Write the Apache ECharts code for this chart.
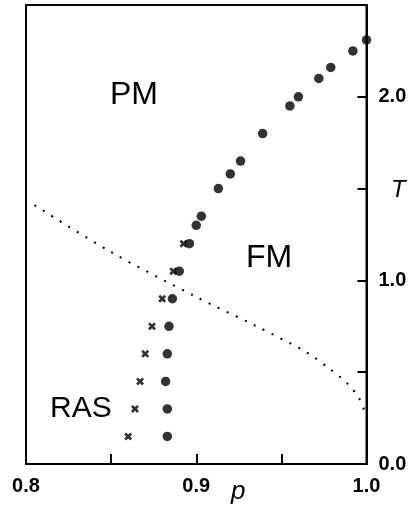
<!DOCTYPE html>
<html>
<head>
<meta charset="utf-8">
<script src="https://cdn.jsdelivr.net/npm/echarts@6/dist/echarts.min.js"></script>
<style>
  html, body { margin: 0; padding: 0; background: #fff; }
  #chart { width: 410px; height: 508px; }
</style>
</head>
<body>
<div id="chart"></div>
<script>
// Phase diagram: temperature T against concentration p

// Ferromagnetic transition points (filled circles)
const pFerro = [0.883, 0.883, 0.882, 0.883, 0.884, 0.886, 0.890, 0.896, 0.900, 0.903,
                0.913, 0.920, 0.926, 0.939, 0.955, 0.960, 0.972, 0.979, 0.992, 1.000];
const tFerro = [0.15, 0.30, 0.45, 0.60, 0.75, 0.90, 1.05, 1.20, 1.30, 1.35,
                1.50, 1.58, 1.65, 1.80, 1.95, 2.00, 2.10, 2.16, 2.25, 2.31];

// Random-axis spin-glass boundary points (crosses)
const pRas = [0.860, 0.864, 0.867, 0.870, 0.874, 0.880, 0.8865, 0.8925];
const tRas = [0.15, 0.30, 0.45, 0.60, 0.75, 0.90, 1.05, 1.20];

// Dotted reference curve
const pCurve = [0.805, 0.850, 0.900, 0.935, 0.965, 0.979, 0.989, 0.9955, 0.999, 1.000];
const tCurve = [1.41, 1.154, 0.910, 0.752, 0.607, 0.514, 0.436, 0.360, 0.285, 0.255];

// Axis ticks and labelled values
const xTicks = { min: 0.8, max: 1.0, step: 0.05 };
const xLabelled = [0.8, 0.9, 1.0];
const yTicks = { min: 0, max: 2.5, step: 0.5 };
const yLabelled = [0, 1, 2];

// Region names
const regionNames = ['PM', 'FM', 'RAS'];

const zip = (a, b) => a.map((v, i) => [v, b[i]]);
const isLabelled = (list, v) => list.some(l => Math.abs(l - v) < 1e-6);

// Heavy "x" marker drawn as a filled outline
const CROSS = 'path://M0,2.4L2.4,0L5,2.6L7.6,0L10,2.4L7.4,5L10,7.6L7.6,10L5,7.4L2.4,10L0,7.6L2.6,5Z';
const FONT = '"Liberation Sans", Arial, Helvetica, sans-serif';

const chart = echarts.init(document.getElementById('chart'), null, { renderer: 'canvas' });

const tickLabel = list => ({
  show: true, margin: 12, color: '#000', fontSize: 20, fontWeight: 'bold', fontFamily: FONT,
  showMinLabel: true, showMaxLabel: true,
  formatter: v => isLabelled(list, v) ? v.toFixed(1) : ''
});

chart.setOption({
  animation: false,
  backgroundColor: '#fff',
  grid: {
    left: 26, right: 43.5, top: 5, bottom: 44,
    show: true, borderColor: '#000', borderWidth: 2, backgroundColor: 'transparent'
  },
  xAxis: {
    type: 'value',
    min: xTicks.min, max: xTicks.max, interval: xTicks.step,
    position: 'bottom',
    splitLine: { show: false },
    axisLine: { show: true, lineStyle: { color: '#000', width: 2 } },
    axisTick: { show: true, inside: true, length: 10, lineStyle: { color: '#000', width: 2 } },
    axisLabel: tickLabel(xLabelled)
  },
  yAxis: {
    type: 'value',
    min: yTicks.min, max: yTicks.max, interval: yTicks.step,
    position: 'right',
    splitLine: { show: false },
    axisLine: { show: true, lineStyle: { color: '#000', width: 2 } },
    axisTick: { show: true, inside: true, length: 9, lineStyle: { color: '#000', width: 2 } },
    axisLabel: tickLabel(yLabelled)
  },
  series: [
    {
      name: 'boundary',
      type: 'line',
      data: zip(pCurve, tCurve),
      showSymbol: false,
      smooth: 0.3,
      lineStyle: { color: '#000', width: 2, type: [2, 8] },
      z: 1
    },
    {
      name: 'RAS',
      type: 'scatter',
      data: zip(pRas, tRas),
      symbol: CROSS,
      symbolSize: 8,
      itemStyle: { color: '#000' },
      z: 2
    },
    {
      name: 'FM',
      type: 'scatter',
      data: zip(pFerro, tFerro),
      symbol: 'circle',
      symbolSize: 9.5,
      itemStyle: { color: '#000' },
      z: 3
    }
  ],
  graphic: [
    { type: 'text', left: 110, top: 79, style: { text: regionNames[0], font: '32px ' + FONT, fill: '#000' } },
    { type: 'text', left: 246, top: 242, style: { text: regionNames[1], font: '32px ' + FONT, fill: '#000' } },
    { type: 'text', left: 50, top: 394, style: { text: regionNames[2], font: '30px ' + FONT, fill: '#000' } },
    { type: 'text', left: 391, top: 178, style: { text: 'T', font: 'italic 24px ' + FONT, fill: '#000' } },
    { type: 'text', left: 231, top: 479, style: { text: 'p', font: 'italic 26px ' + FONT, fill: '#000' } }
  ]
});
</script>
</body>
</html>
